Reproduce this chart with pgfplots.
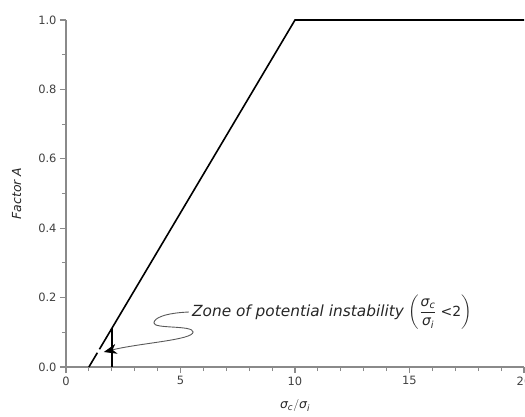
\documentclass[border=0pt]{standalone}
\usepackage{pgfplots}
\pgfplotsset{compat=1.18}
\usepackage{amsmath}
\usepackage{fontspec}
\setmainfont{DejaVu Sans}
\usetikzlibrary{arrows.meta}
\definecolor{axgray}{HTML}{8A8A8A}
\definecolor{lblgray}{HTML}{404040}
\begin{document}
\begin{tikzpicture}
\useasboundingbox (-66bp,-50bp) rectangle (459bp,367bp);
\begin{axis}[
  at={(0,0)}, anchor=south west,
  scale only axis, width=458bp, height=347bp,
  xmin=0, xmax=20, ymin=0, ymax=1,
  axis x line=bottom, axis y line=left,
  axis line style={-, axgray, line width=1.3bp},
  every tick/.style={axgray, line width=1.1bp},
  tick align=outside,
  major tick length=6bp, minor tick length=4bp,
  xtick={0,5,10,15,20}, minor x tick num=4,
  ytick={0,0.2,0.4,0.6,0.8,1.0}, minor y tick num=1,
  tick label style={font=\fontsize{11.5}{13}\selectfont, text=lblgray},
  /pgf/number format/assume math mode=true,
  yticklabel style={/pgf/number format/.cd, fixed, fixed zerofill, precision=1},
  xticklabel style={/pgf/number format/.cd, fixed, precision=0},
  xlabel={$\textit{σ}_{\textit{c}}/\textit{σ}_{\textit{i}}$},
  ylabel={\textit{Factor A}},
  label style={font=\fontsize{12.5}{14}\selectfont, text=black!85},
  xlabel style={yshift=-8bp},
  ylabel style={yshift=10bp},
  clip=false,
]
\addplot[black, line width=1.6bp] coordinates {(1,0) (1.37,0.0411)};
\addplot[black, line width=1.6bp] coordinates {(1.46,0.0511) (2,0.1111) (10,1) (20,1)};
\addplot[black, line width=1.6bp] coordinates {(2,0) (2,0.1111)};
\draw[black!65, line width=0.9bp, -{Stealth[length=13bp, width=10bp, inset=4bp, color=black, fill=black]}]
  (axis cs:5.37,0.1585) .. controls (axis cs:4.32,0.1556) and (axis cs:3.84,0.1412) ..
  (axis cs:3.84,0.1268) .. controls (axis cs:3.84,0.1095) and (axis cs:5.55,0.121) ..
  (axis cs:5.55,0.1009) .. controls (axis cs:5.55,0.0778) and (axis cs:3.23,0.0692) ..
  (axis cs:1.65,0.0432);
\node[anchor=west, inner sep=0pt, font=\fontsize{15.4}{17}\selectfont, text=black!85]
  at (axis cs:5.5,0.157)
  {\textit{Zone of potential instability} {\fontsize{14}{16}\selectfont$\left(\dfrac{\textit{σ}_{\textit{c}}}{\textit{σ}_{\textit{i}}}\;\text{\textit{<}2}\right)$}};
\end{axis}
\end{tikzpicture}
\end{document}
